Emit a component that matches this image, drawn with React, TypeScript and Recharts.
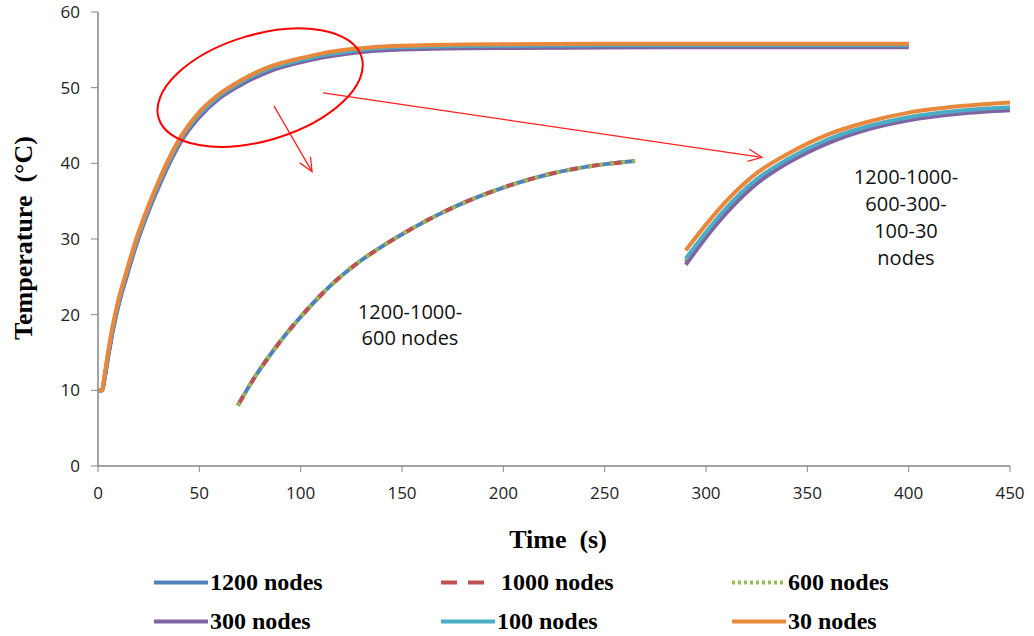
import React from 'react'
import { LineChart, Line, XAxis, YAxis, ReferenceDot, ReferenceLine } from 'recharts'

// main run, 0-400 s (1200, 1000 and 600 nodes give the same curve)
const mainTime = [0, 2, 3, 5, 7, 10, 14, 19, 25, 30, 34, 41, 50, 60, 70, 85, 100, 110, 125, 135, 150, 165, 180, 200, 250, 300, 350, 400]
const main1200 = [10, 10, 11.3, 14.6, 17.6, 21.3, 25.1, 29.5, 33.9, 37.1, 39.5, 43.1, 46.3, 48.8, 50.5, 52.4, 53.5, 54.1, 54.7, 55.0, 55.2, 55.3, 55.35, 55.4, 55.45, 55.5, 55.5, 55.5]
const main300 = [10, 10, 11.1, 14.4, 17.4, 21.1, 24.9, 29.3, 33.7, 36.9, 39.3, 42.9, 46.1, 48.6, 50.3, 52.2, 53.35, 53.95, 54.55, 54.85, 55.05, 55.15, 55.2, 55.25, 55.3, 55.35, 55.35, 55.35]
const main100 = [10, 10, 11.4, 14.8, 17.8, 21.5, 25.3, 29.7, 34.1, 37.3, 39.7, 43.3, 46.45, 48.95, 50.65, 52.55, 53.65, 54.25, 54.85, 55.15, 55.35, 55.45, 55.5, 55.55, 55.6, 55.6, 55.6, 55.6]
const main30 = [10, 10, 11.6, 15.1, 18.2, 21.9, 25.7, 30.1, 34.5, 37.7, 40.1, 43.6, 46.8, 49.2, 50.9, 52.8, 53.9, 54.5, 55.1, 55.35, 55.55, 55.65, 55.7, 55.75, 55.8, 55.8, 55.8, 55.8]

// zoomed copy #1 (1200-1000-600 nodes)
const zoomATime = [69, 77, 85, 93, 101, 110, 120, 130, 140, 155, 170, 185, 200, 220, 240, 265]
const zoomA1200 = [8.0, 11.6, 14.7, 17.5, 20.0, 22.6, 25.1, 27.2, 29.0, 31.4, 33.5, 35.3, 36.8, 38.4, 39.5, 40.3]

// zoomed copy #2 (all six)
const zoomBTime = [290, 300, 310, 325, 340, 360, 380, 400, 425, 450]
const zoomB1200 = [27.0, 30.55, 33.75, 37.6, 40.25, 42.9, 44.7, 45.9, 46.75, 47.2]
const zoomB300 = [26.6, 30.2, 33.4, 37.3, 40.0, 42.65, 44.5, 45.7, 46.55, 47.0]
const zoomB100 = [27.4, 30.9, 34.1, 37.9, 40.5, 43.15, 44.9, 46.1, 46.95, 47.4]
const zoomB30 = [28.5, 31.9, 35.0, 38.7, 41.2, 43.8, 45.5, 46.7, 47.55, 48.05]

const xTicks = [0, 50, 100, 150, 200, 250, 300, 350, 400, 450]
const yTicks = [0, 10, 20, 30, 40, 50, 60]

const C1200 = '#4F81BD'
const C1000 = '#C0504D'
const C600 = '#9BBB59'
const C300 = '#8064A2'
const C100 = '#4BACC6'
const C30 = '#E9873A'

const DASH_1000 = '11 11'
const DOT_600 = '3.5 7.5'

const toPts = (ts: number[], vs: number[]) => ts.map((t, i) => ({ t, v: vs[i] }))

const AXIS = '#868686'
const TICK_FONT = { fill: '#222', fontSize: 17, fontFamily: '"Open Sans", sans-serif' }
const SERIF = '"Liberation Serif", "Times New Roman", serif'

function EllipseShape(props: any) {
  const { cx, cy } = props
  return (
    <ellipse cx={cx} cy={cy} rx={106} ry={53} transform={`rotate(-16.7 ${cx} ${cy})`}
      fill="none" stroke="#FF0000" strokeWidth={2} />
  )
}

function Arrow(props: any) {
  const { x1, y1, x2, y2 } = props
  const a = Math.atan2(y2 - y1, x2 - x1)
  const h = 15
  const s = 0.42
  const ax = x2 - h * Math.cos(a - s), ay = y2 - h * Math.sin(a - s)
  const bx = x2 - h * Math.cos(a + s), by = y2 - h * Math.sin(a + s)
  return (
    <g stroke="#FF2020" strokeWidth={1.3} fill="none">
      <line x1={x1} y1={y1} x2={x2} y2={y2} />
      <polyline points={`${ax},${ay} ${x2},${y2} ${bx},${by}`} />
    </g>
  )
}

type Item = { name: string; color: string; dash?: string; col: number; row: number }
const legendItems: Item[] = [
  { name: '1200 nodes', color: C1200, col: 0, row: 0 },
  { name: '1000 nodes', color: C1000, dash: '16 11', col: 1, row: 0 },
  { name: '600 nodes', color: C600, dash: '3 3', col: 2, row: 0 },
  { name: '300 nodes', color: C300, col: 0, row: 1 },
  { name: '100 nodes', color: C100, col: 1, row: 1 },
  { name: '30 nodes', color: C30, col: 2, row: 1 },
]
const legendCols = [154, 441, 732]
const legendRows = [582, 621]

function line(key: string, ts: number[], vs: number[], color: string, dash?: string) {
  return (
    <Line key={key} data={toPts(ts, vs)} dataKey="v" type="monotone" stroke={color} strokeWidth={4}
      strokeDasharray={dash} dot={false} activeDot={false} isAnimationActive={false} />
  )
}

export default function App() {
  return (
    <div style={{ position: 'absolute', left: 0, top: 0, width: 1034, height: 636, background: '#fff' }}>
      <LineChart width={1034} height={636} margin={{ top: 12, right: 24, left: 0, bottom: 130 }}>
        <XAxis dataKey="t" type="number" domain={[0, 450]} ticks={xTicks} height={40}
          axisLine={{ stroke: AXIS, strokeWidth: 1.5 }} tickLine={{ stroke: AXIS }} tickSize={6} tickMargin={15}
          tick={TICK_FONT} allowDataOverflow />
        <YAxis type="number" domain={[0, 60]} ticks={yTicks} width={98}
          axisLine={{ stroke: AXIS, strokeWidth: 1.5 }} tickLine={{ stroke: AXIS }} tickSize={7} tickMargin={11}
          tick={TICK_FONT} allowDataOverflow />

        {line('m1200', mainTime, main1200, C1200)}
        {line('m1000', mainTime, main1200, C1000, DASH_1000)}
        {line('m600', mainTime, main1200, C600, DOT_600)}
        {line('m300', mainTime, main300, C300)}
        {line('m100', mainTime, main100, C100)}
        {line('m30', mainTime, main30, C30)}

        {line('a1200', zoomATime, zoomA1200, C1200)}
        {line('a1000', zoomATime, zoomA1200, C1000, DASH_1000)}
        {line('a600', zoomATime, zoomA1200, C600, DOT_600)}

        {line('b1200', zoomBTime, zoomB1200, C1200)}
        {line('b1000', zoomBTime, zoomB1200, C1000, DASH_1000)}
        {line('b600', zoomBTime, zoomB1200, C600, DOT_600)}
        {line('b300', zoomBTime, zoomB300, C300)}
        {line('b100', zoomBTime, zoomB100, C100)}
        {line('b30', zoomBTime, zoomB30, C30)}

        <ReferenceDot x={80} y={50} shape={EllipseShape} ifOverflow="visible" />
        <ReferenceLine segment={[{ x: 86.8, y: 47.6 }, { x: 105.6, y: 38.9 }]} shape={Arrow} ifOverflow="visible" />
        <ReferenceLine segment={[{ x: 111, y: 49.3 }, { x: 327.6, y: 40.8 }]} shape={Arrow} ifOverflow="visible" />
      </LineChart>

      {/* zoom labels */}
      <div style={{ position: 'absolute', left: 410, top: 325, transform: 'translate(-50%, -50%)', textAlign: 'center',
        fontFamily: '"Open Sans", sans-serif', fontSize: 20, lineHeight: '26px', color: '#111', whiteSpace: 'nowrap' }}>
        1200-1000-<br />600 nodes
      </div>
      <div style={{ position: 'absolute', left: 906, top: 217, transform: 'translate(-50%, -50%)', textAlign: 'center',
        fontFamily: '"Open Sans", sans-serif', fontSize: 20, lineHeight: '27px', color: '#111', whiteSpace: 'nowrap' }}>
        1200-1000-<br />600-300-<br />100-30<br />nodes
      </div>

      {/* axis titles */}
      <div style={{ position: 'absolute', left: 24, top: 238, transform: 'translate(-50%, -50%) rotate(-90deg)',
        fontFamily: SERIF, fontWeight: 'bold', fontSize: 26, whiteSpace: 'pre', color: '#000' }}>
        Temperature  (°C)
      </div>
      <div style={{ position: 'absolute', left: 558, top: 540, transform: 'translate(-50%, -50%)',
        fontFamily: SERIF, fontWeight: 'bold', fontSize: 26, whiteSpace: 'pre', color: '#000' }}>
        Time  (s)
      </div>

      {/* legend */}
      {legendItems.map((it) => (
        <div key={it.name} style={{ position: 'absolute', left: legendCols[it.col], top: legendRows[it.row],
          transform: 'translateY(-50%)', display: 'flex', alignItems: 'center' }}>
          <svg width={it.dash === '16 11' ? 60 : 56} height={8}>
            <line x1={0} y1={4} x2={54} y2={4} stroke={it.color} strokeWidth={4} strokeDasharray={it.dash} />
          </svg>
          <span style={{ fontFamily: SERIF, fontWeight: 'bold', fontSize: 24, color: '#000', whiteSpace: 'nowrap' }}>
            {it.name}
          </span>
        </div>
      ))}
    </div>
  )
}
